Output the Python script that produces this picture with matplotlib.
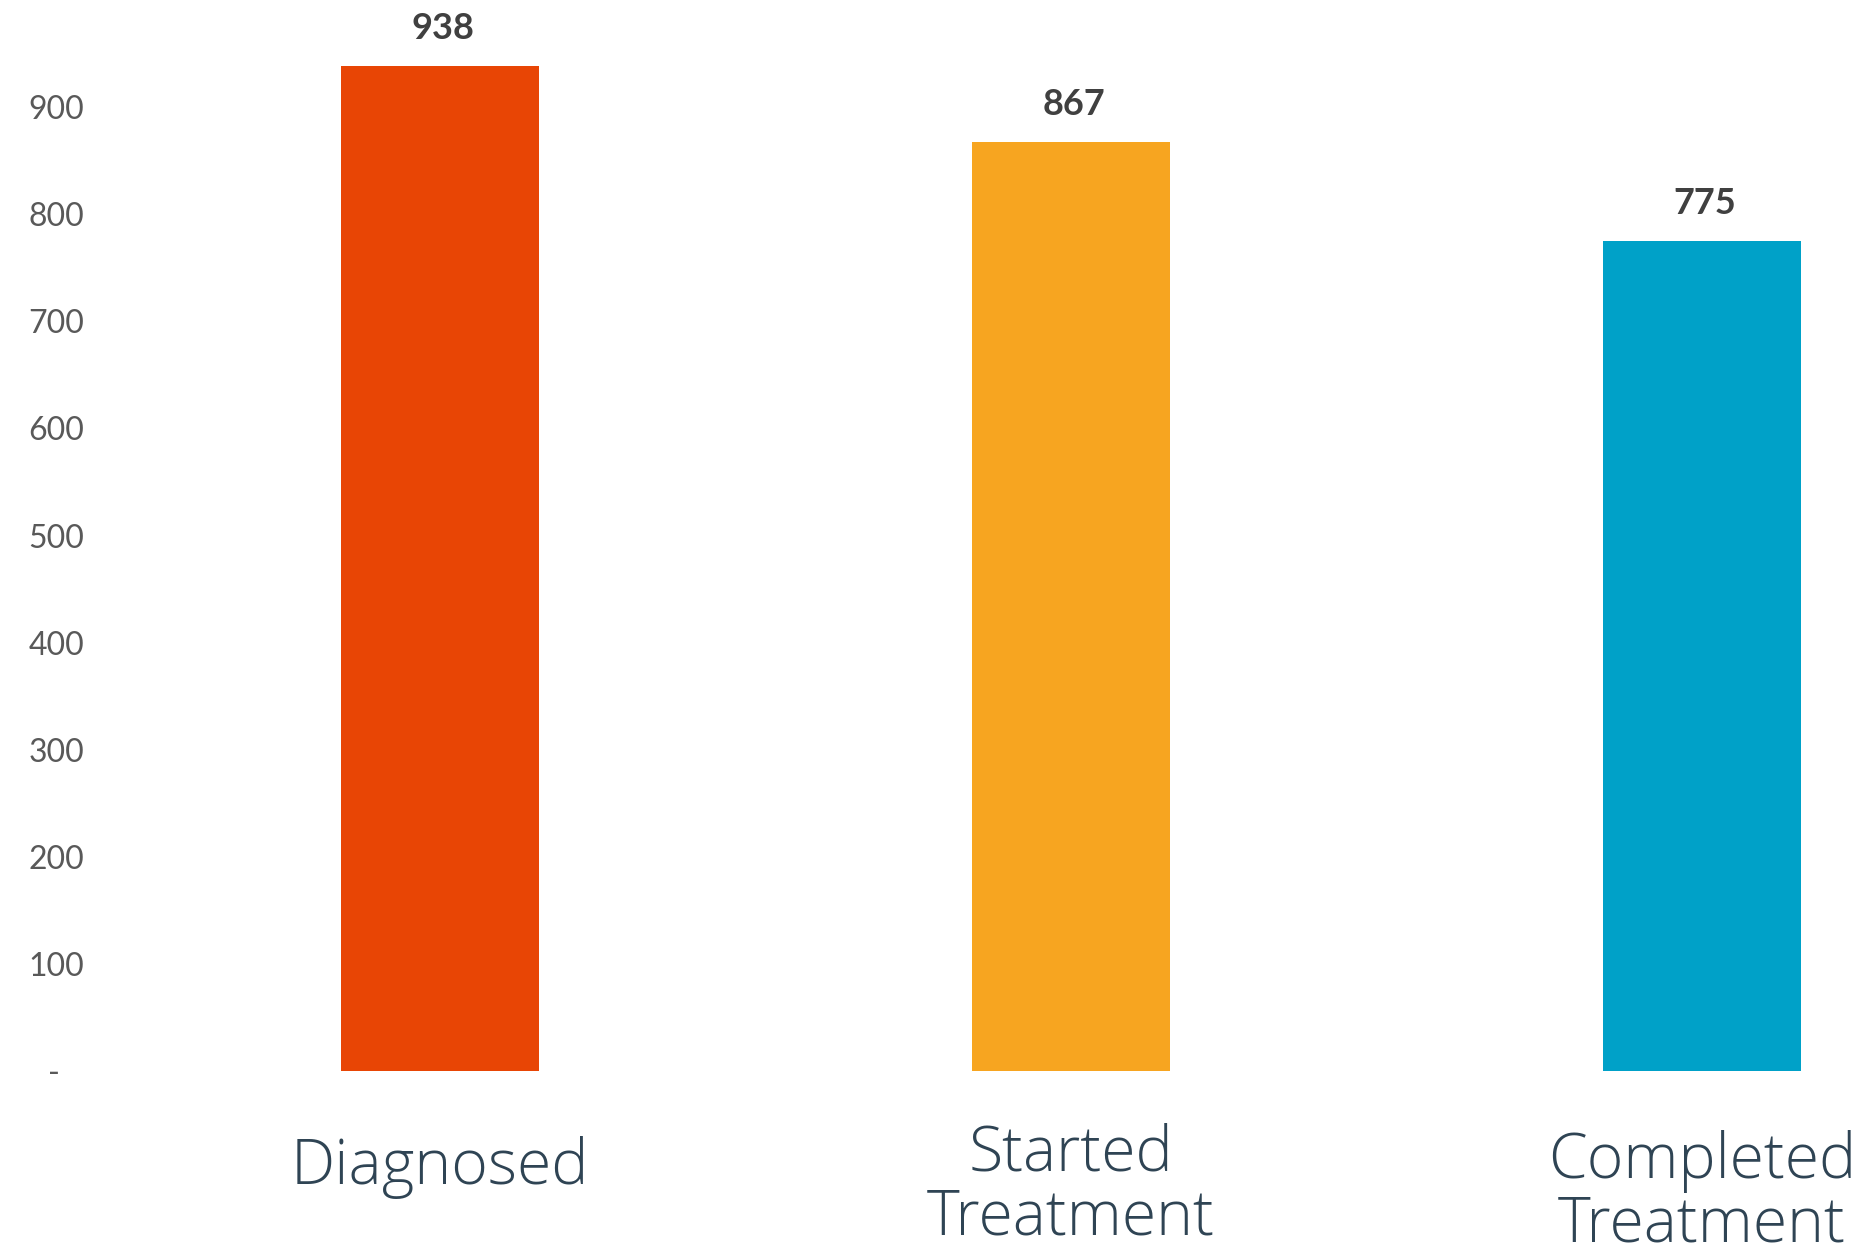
import matplotlib
matplotlib.use("Agg")
import matplotlib.pyplot as plt

categories = ["Diagnosed", "Started\nTreatment", "Completed\nTreatment"]
values = [938, 867, 775]
colors = ["#E84505", "#F7A520", "#00A1C8"]
yticks = [0, 100, 200, 300, 400, 500, 600, 700, 800, 900]
ytick_labels = ["-   ", "100", "200", "300", "400", "500", "600", "700", "800", "900"]

W, H = 1874, 1257
fig = plt.figure(figsize=(W / 100, H / 100), dpi=100)
left_px, bottom_px = 124.5, 1257 - 1071
spacing_px = 631
ax = fig.add_axes([left_px / W, bottom_px / H, 1 - left_px / W, 1 - bottom_px / H])

x = list(range(len(categories)))
ax.bar(x, values, width=198 / spacing_px, color=colors)
ax.set_xlim(-0.5, (W - left_px) / spacing_px - 0.5)
ax.set_ylim(0, 1000)

for s in ax.spines.values():
    s.set_visible(False)

ax.set_yticks(yticks)
ax.set_yticklabels(ytick_labels, fontfamily="Lato", fontsize=23, color="#595959")
ax.tick_params(axis="y", length=0, pad=29)
ax.set_xticks([])

for xi, v in zip(x, values):
    ax.annotate(f"{v}", xy=(xi, v), xytext=(2, 19.5), textcoords="offset points",
                ha="center", va="baseline", fontfamily="Lato", fontweight="bold",
                fontsize=26, color="#404040", annotation_clip=False)

label_offsets = [-69.5, -82.5, -88]
for xi, lab, off in zip(x, categories, label_offsets):
    ax.annotate(lab, xy=(xi, 0), xycoords=("data", "axes fraction"),
                xytext=(0, off), textcoords="offset points",
                ha="center", va="center", fontfamily="Open Sans", fontweight="light",
                fontsize=45, color="#2F4454", linespacing=1.02,
                annotation_clip=False, multialignment="center")

fig.savefig("out.png", dpi=100)
